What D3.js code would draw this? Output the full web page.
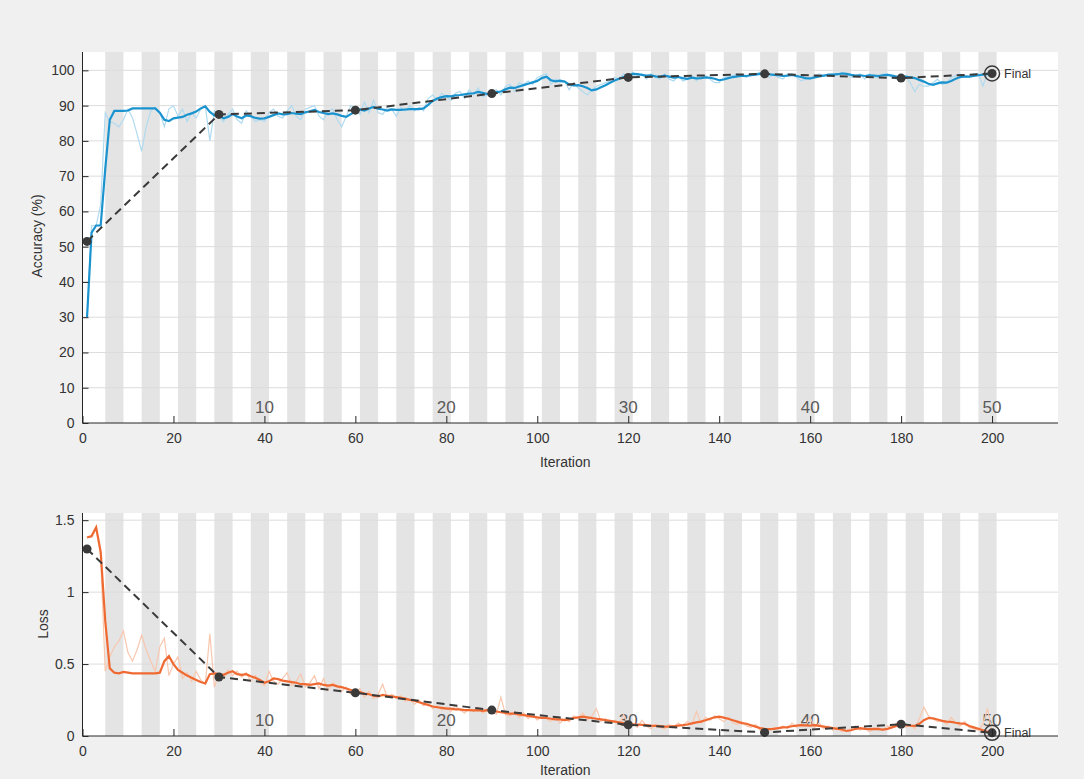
<!DOCTYPE html>
<html>
<head>
<meta charset="utf-8">
<script src="https://cdn.jsdelivr.net/npm/d3@7/dist/d3.min.js"></script>
<style>
  html, body { margin: 0; padding: 0; background: #f0f0f0; }
  svg { display: block; font-family: "Liberation Sans", Arial, sans-serif; }
</style>
</head>
<body>
<svg id="chart" width="1084" height="779"></svg>
<script>
// Training progress: 50 epochs, 4 iterations per epoch, 200 iterations
const iterationsPerEpoch = 4;
const epochCount = 50;
const epochLabels = [10, 20, 30, 40, 50];

const accTicks = [0, 10, 20, 30, 40, 50, 60, 70, 80, 90, 100];
const lossTicks = [0, 0.5, 1, 1.5];
const lossTickLabels = ["0", "0.5", "1", "1.5"];
const iterTicks = [0, 20, 40, 60, 80, 100, 120, 140, 160, 180, 200];

// Training accuracy per iteration (raw)
const accRaw = [
  30, 56, 56, 62, 88, 85.5, 85, 84, 86, 89,
  86.5, 82, 77, 84, 88.5, 89.5, 88, 84, 89, 90,
  87, 89, 85.5, 88, 86.5, 89, 90, 80, 88.5, 87,
  85.5, 87.5, 89, 86, 85, 88.5, 87, 85.5, 86, 85.5,
  88, 89, 87, 86.5, 88.5, 90, 87, 86, 89, 89.5,
  90, 87, 86, 88.5, 89, 86, 84, 87, 90, 89.5,
  87.5, 91, 88, 91.5, 88, 87.5, 89.5, 89, 87, 89.5,
  88.5, 90, 88.5, 89.5, 88.5, 92, 93, 91.5, 93.5, 92.5,
  91.5, 93.5, 94, 92, 94.5, 93, 95, 92.5, 93, 94,
  94.5, 93, 95.5, 96, 94, 96.5, 96, 97, 96, 98,
  98.5, 99, 96, 97.5, 96.5, 97, 94.5, 96.5, 95, 94,
  93, 94.5, 95.5, 96, 96.5, 97, 98, 97.5, 99, 98,
  99.5, 98.5, 99, 97.5, 99, 98, 97.5, 99, 97.5, 97,
  98.5, 97, 97.5, 98.5, 97, 98.5, 98.5, 97.5, 96.5, 96.5,
  98, 98.5, 98.5, 99, 98.5, 98, 99, 99, 99.5, 99,
  98, 99, 98, 97.5, 99, 99, 98, 97, 97.5, 97.5,
  98.5, 99, 98.5, 99, 99, 98.5, 99.5, 99, 98, 98.5,
  99, 97.5, 99, 98, 98, 99, 99, 98, 97.5, 98,
  98.5, 96.5, 94, 96, 95.5, 95.5, 96.5, 97.5, 96, 96.5,
  98, 98.5, 99, 98, 98, 99, 99, 95.5, 99.5, 99
];

// Training accuracy per iteration (smoothed)
const accSmooth = [
  30, 54, 56, 56, 72, 86, 88.5, 88.5, 88.5, 88.6,
  89.2, 89.2, 89.2, 89.2, 89.2, 89.2, 88.0, 86.0, 85.6, 86.4,
  86.6, 86.8, 87.4, 87.8, 88.3, 89.2, 89.8, 88.2, 87.2, 87.3,
  86.4, 86.8, 87.6, 86.9, 86.4, 87.2, 87.0, 86.5, 86.3, 86.4,
  86.8, 87.3, 87.8, 87.5, 87.6, 87.9, 87.7, 87.6, 88.1, 88.4,
  88.8, 88.2, 87.9, 87.6, 87.8, 87.5, 87.1, 86.8, 87.6, 88.4,
  88.9, 88.6, 89.2, 89.6, 89.1, 88.9, 88.6, 88.9, 88.8, 88.8,
  88.9, 89.0, 89.0, 89.0, 89.2, 90.2, 91.3, 92.0, 92.4, 92.7,
  92.6, 92.9, 93.0, 93.2, 93.4, 93.5, 93.9, 93.6, 93.3, 93.5,
  93.8, 94.0, 94.6, 95.1, 95.0, 95.4, 95.8, 96.2, 96.6, 97.0,
  97.8, 98.2, 97.2, 96.9, 97.1, 96.8, 96.0, 95.7, 95.8, 95.5,
  95.0, 94.3, 94.6, 95.2, 95.8, 96.5, 97.1, 97.6, 98.1, 98.5,
  99.0, 98.9, 98.7, 98.5, 98.6, 98.3, 98.2, 98.5, 98.2, 97.9,
  98.1, 97.8, 97.6, 97.9, 97.7, 97.8, 98.0, 97.9, 97.6, 97.2,
  97.4, 97.8, 98.1, 98.3, 98.5, 98.4, 98.6, 98.8, 99.0, 99.1,
  98.9, 98.7, 98.6, 98.4, 98.5, 98.7, 98.4, 98.1, 97.8, 97.7,
  98.0, 98.3, 98.5, 98.7, 98.8, 98.9, 99.1, 99.0, 98.7, 98.5,
  98.6, 98.4, 98.6, 98.5, 98.4, 98.6, 98.7, 98.5, 98.2, 98.0,
  98.2, 98.0, 97.8, 97.3, 96.8, 96.2, 95.9, 96.3, 96.6, 96.5,
  97.0, 97.6, 98.1, 98.3, 98.2, 98.4, 98.6, 98.8, 98.9, 99.1
];

// Training loss per iteration (raw)
const lossRaw = [
  1.38, 1.38, 1.44, 1.25, 0.45, 0.55, 0.62, 0.66, 0.73, 0.58,
  0.52, 0.60, 0.70, 0.60, 0.52, 0.45, 0.62, 0.68, 0.42, 0.50,
  0.55, 0.40, 0.44, 0.38, 0.45, 0.39, 0.36, 0.71, 0.34, 0.43,
  0.40, 0.46, 0.42, 0.45, 0.41, 0.44, 0.38, 0.42, 0.37, 0.35,
  0.45, 0.38, 0.36, 0.40, 0.44, 0.35, 0.38, 0.43, 0.34, 0.37,
  0.42, 0.33, 0.40, 0.32, 0.37, 0.35, 0.31, 0.34, 0.29, 0.30,
  0.33, 0.27, 0.31, 0.26, 0.29, 0.36, 0.27, 0.29, 0.26, 0.28,
  0.24, 0.26, 0.22, 0.25, 0.21, 0.23, 0.19, 0.21, 0.18, 0.20,
  0.17, 0.21, 0.18, 0.16, 0.19, 0.17, 0.20, 0.16, 0.18, 0.17,
  0.15, 0.27, 0.15, 0.14, 0.17, 0.13, 0.16, 0.12, 0.15, 0.11,
  0.14, 0.12, 0.10, 0.13, 0.09, 0.12, 0.10, 0.14, 0.12, 0.16,
  0.11, 0.14, 0.19, 0.10, 0.12, 0.09, 0.11, 0.08, 0.15, 0.07,
  0.09, 0.06, 0.11, 0.07, 0.05, 0.08, 0.06, 0.05, 0.08, 0.06,
  0.09, 0.07, 0.10, 0.08, 0.17, 0.09, 0.13, 0.11, 0.14, 0.12,
  0.10, 0.13, 0.09, 0.08, 0.10, 0.07, 0.06, 0.08, 0.04, 0.05,
  0.04, 0.06, 0.05, 0.07, 0.05, 0.09, 0.06, 0.08, 0.07, 0.13,
  0.06, 0.09, 0.05, 0.07, 0.04, 0.06, 0.03, 0.04, 0.05, 0.07,
  0.04, 0.06, 0.03, 0.05, 0.06, 0.04, 0.07, 0.06, 0.09, 0.10,
  0.06, 0.08, 0.05, 0.12, 0.20, 0.14, 0.12, 0.10, 0.11, 0.08,
  0.13, 0.09, 0.07, 0.10, 0.06, 0.05, 0.04, 0.08, 0.19, 0.03
];

// Training loss per iteration (smoothed)
const lossSmooth = [
  1.38, 1.39, 1.45, 1.28, 0.80, 0.47, 0.44, 0.435, 0.445, 0.44,
  0.435, 0.435, 0.435, 0.435, 0.435, 0.435, 0.44, 0.52, 0.555, 0.50,
  0.46, 0.44, 0.42, 0.405, 0.39, 0.375, 0.365, 0.43, 0.435, 0.43,
  0.425, 0.44, 0.45, 0.43, 0.425, 0.43, 0.415, 0.405, 0.39, 0.37,
  0.38, 0.40, 0.395, 0.385, 0.38, 0.375, 0.37, 0.36, 0.36, 0.355,
  0.36, 0.365, 0.355, 0.35, 0.355, 0.345, 0.34, 0.33, 0.32, 0.31,
  0.305, 0.295, 0.29, 0.28, 0.275, 0.285, 0.28, 0.275, 0.27, 0.265,
  0.26, 0.25, 0.245, 0.235, 0.225, 0.215, 0.205, 0.20, 0.195, 0.19,
  0.19, 0.185, 0.185, 0.18, 0.18, 0.178, 0.18, 0.175, 0.18, 0.178,
  0.17, 0.165, 0.16, 0.155, 0.155, 0.15, 0.145, 0.14, 0.135, 0.13,
  0.125, 0.125, 0.12, 0.115, 0.115, 0.11, 0.115, 0.125, 0.13, 0.135,
  0.13, 0.125, 0.12, 0.115, 0.11, 0.105, 0.10, 0.095, 0.09, 0.085,
  0.08, 0.08, 0.078, 0.075, 0.072, 0.07, 0.068, 0.065, 0.065, 0.068,
  0.072, 0.075, 0.08, 0.088, 0.095, 0.10, 0.11, 0.12, 0.13, 0.135,
  0.128, 0.12, 0.11, 0.10, 0.09, 0.085, 0.075, 0.065, 0.055, 0.05,
  0.048, 0.05, 0.055, 0.06, 0.062, 0.068, 0.072, 0.075, 0.074, 0.072,
  0.075, 0.07, 0.065, 0.06, 0.055, 0.05, 0.045, 0.035, 0.04, 0.05,
  0.055, 0.05, 0.048, 0.05, 0.048, 0.045, 0.05, 0.06, 0.07, 0.078,
  0.075, 0.072, 0.07, 0.085, 0.11, 0.125, 0.122, 0.115, 0.105, 0.10,
  0.098, 0.092, 0.088, 0.085, 0.07, 0.06, 0.05, 0.04, 0.03, 0.025
];

// Validation checkpoints
const valIterations = [1, 30, 60, 90, 120, 150, 180, 200];
const valAccuracy = [51.5, 87.5, 88.7, 93.4, 98.0, 99.0, 97.8, 99.1];
const valLoss = [1.3, 0.41, 0.30, 0.18, 0.078, 0.025, 0.082, 0.022];

const svg = d3.select("#chart");

const left = 82.5, right = 1058;
const iterations = d3.range(1, accRaw.length + 1);
const epochs = d3.range(1, epochCount + 1);

const colors = {
  accRaw: "#b0daf0",
  accSmooth: "#1a93cf",
  lossRaw: "#f8c7ae",
  lossSmooth: "#ef6a33",
  val: "#3a3a3a",
  stripe: "#e4e4e4",
  grid: "#dcdcdc",
  axis: "#262626",
  text: "#333333",
  epochText: "#5a5a5a"
};

function drawPanel(cfg) {
  const x = d3.scaleLinear().domain([0, 214.5]).range([left, right]);
  const y = d3.scaleLinear().domain(cfg.yDomain).range([cfg.bottom, cfg.top]);
  const g = svg.append("g");

  // plot background
  g.append("rect")
    .attr("x", left).attr("y", cfg.top)
    .attr("width", right - left).attr("height", cfg.bottom - cfg.top)
    .attr("fill", "#ffffff");

  // shading of alternate epochs
  g.selectAll("rect.stripe")
    .data(epochs.filter(e => e % 2 === 0))
    .join("rect")
    .attr("class", "stripe")
    .attr("x", e => x((e - 1) * iterationsPerEpoch + 1))
    .attr("width", e => x(e * iterationsPerEpoch + 1) - x((e - 1) * iterationsPerEpoch + 1))
    .attr("y", cfg.top)
    .attr("height", cfg.bottom - cfg.top)
    .attr("fill", colors.stripe);

  // horizontal grid
  g.selectAll("line.grid")
    .data(cfg.ticks.filter(t => t > 0))
    .join("line")
    .attr("class", "grid")
    .attr("x1", left).attr("x2", right)
    .attr("y1", d => y(d)).attr("y2", d => y(d))
    .attr("stroke", colors.grid).attr("stroke-width", 1);

  // epoch numbers
  g.selectAll("text.epoch")
    .data(epochLabels)
    .join("text")
    .attr("class", "epoch")
    .attr("x", e => x(e * iterationsPerEpoch))
    .attr("y", cfg.bottom - 10)
    .attr("text-anchor", "middle")
    .attr("font-size", 17)
    .attr("fill", colors.epochText)
    .text(e => e);

  const line = (vals) => d3.line()
    .x((d, i) => x(iterations[i]))
    .y(d => y(d))(vals);

  g.append("path").attr("d", line(cfg.raw))
    .attr("fill", "none").attr("stroke", cfg.rawColor).attr("stroke-width", 1.2);
  g.append("path").attr("d", line(cfg.smooth))
    .attr("fill", "none").attr("stroke", cfg.smoothColor).attr("stroke-width", 2.2);

  // validation
  const valLine = d3.line().x(d => x(d[0])).y(d => y(d[1]));
  const valPts = valIterations.map((it, i) => [it, cfg.val[i]]);
  g.append("path").attr("d", valLine(valPts))
    .attr("fill", "none").attr("stroke", colors.val)
    .attr("stroke-width", 2).attr("stroke-dasharray", "8,5");
  g.selectAll("circle.val")
    .data(valPts)
    .join("circle")
    .attr("class", "val")
    .attr("cx", d => x(d[0])).attr("cy", d => y(d[1]))
    .attr("r", 4.5).attr("fill", colors.val);

  // final marker
  const fin = valPts[valPts.length - 1];
  g.append("circle").attr("cx", x(fin[0])).attr("cy", y(fin[1]))
    .attr("r", 7.5).attr("fill", "none").attr("stroke", colors.val).attr("stroke-width", 1.5);
  g.append("text").attr("x", x(fin[0]) + 12).attr("y", y(fin[1]) + 4.5)
    .attr("font-size", 12.5).attr("fill", colors.text).text("Final");

  // axes
  const xAxis = d3.axisBottom(x).tickValues(iterTicks).tickSize(-7).tickPadding(10).tickSizeOuter(0);
  const gx = g.append("g").attr("transform", `translate(0,${cfg.bottom})`).call(xAxis);
  gx.select(".domain").attr("stroke", colors.axis).attr("d", `M${left},0H${right}`);
  gx.selectAll(".tick line").attr("stroke", colors.axis);
  gx.selectAll(".tick text").attr("font-size", 14).attr("fill", colors.text)
    .attr("font-family", "Liberation Sans, Arial, sans-serif");

  const yAxis = d3.axisLeft(y).tickValues(cfg.ticks).tickSize(-6).tickPadding(8)
    .tickSizeOuter(0).tickFormat((d, i) => cfg.tickLabels[i]);
  const gy = g.append("g").attr("transform", `translate(${left},0)`).call(yAxis);
  gy.select(".domain").attr("stroke", colors.axis).attr("d", `M0,${cfg.top}V${cfg.bottom}`);
  gy.selectAll(".tick line").attr("stroke", colors.axis);
  gy.selectAll(".tick text").attr("font-size", 14).attr("fill", colors.text)
    .attr("font-family", "Liberation Sans, Arial, sans-serif");

  // axis titles
  g.append("text").attr("x", (left + 1048) / 2).attr("y", cfg.bottom + cfg.xTitleOffset)
    .attr("text-anchor", "middle").attr("font-size", 14).attr("fill", colors.text)
    .text("Iteration");
  g.append("text")
    .attr("transform", `translate(${cfg.yTitleX},${cfg.yTitleY}) rotate(-90)`)
    .attr("text-anchor", "middle").attr("font-size", 14).attr("fill", colors.text)
    .text(cfg.yTitle);
}

drawPanel({
  top: 52, bottom: 423, yDomain: [0, 105.2],
  ticks: accTicks, tickLabels: accTicks.map(String),
  raw: accRaw, smooth: accSmooth, val: valAccuracy,
  rawColor: colors.accRaw, smoothColor: colors.accSmooth,
  yTitle: "Accuracy (%)", yTitleX: 42, yTitleY: 236, xTitleOffset: 44
});

drawPanel({
  top: 513, bottom: 736, yDomain: [0, 1.55],
  ticks: lossTicks, tickLabels: lossTickLabels,
  raw: lossRaw, smooth: lossSmooth, val: valLoss,
  rawColor: colors.lossRaw, smoothColor: colors.lossSmooth,
  yTitle: "Loss", yTitleX: 48, yTitleY: 624, xTitleOffset: 39
});
</script>
</body>
</html>
